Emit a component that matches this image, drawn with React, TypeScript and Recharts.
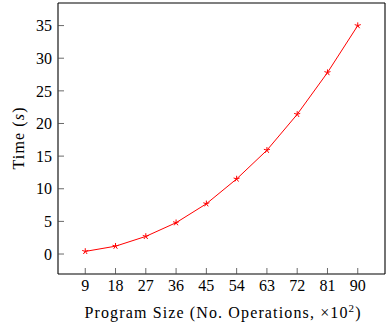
import { LineChart, Line, XAxis, YAxis, Label } from "recharts";

const programSizes = [9, 18, 27, 36, 45, 54, 63, 72, 81, 90];
const times = [0.4, 1.2, 2.7, 4.8, 7.7, 11.5, 15.9, 21.4, 27.8, 35.0];
const xTicks = [9, 18, 27, 36, 45, 54, 63, 72, 81, 90];
const yTicks = [0, 5, 10, 15, 20, 25, 30, 35];

const data = programSizes.map((size, i) => ({ size, time: times[i] }));

const FONT = "'Liberation Serif', 'Times New Roman', serif";

// pgfplots-style "star" mark: five spokes from the centre
function StarDot(props: any) {
  const { cx, cy } = props;
  if (cx == null || cy == null) return null;
  const r = 3.2;
  const spokes = [0, 1, 2, 3, 4].map((k) => {
    const a = -Math.PI / 2 + (k * 2 * Math.PI) / 5;
    return (
      <line
        key={k}
        x1={cx}
        y1={cy}
        x2={cx + r * Math.cos(a)}
        y2={cy + r * Math.sin(a)}
        stroke="#ff0000"
        strokeWidth={1}
      />
    );
  });
  return <g>{spokes}</g>;
}

export default function App() {
  const tickStyle = { fontFamily: FONT, fontSize: 16, fill: "#000" };
  const tickLine = { stroke: "#444", strokeWidth: 0.8 };
  const axisLine = { stroke: "#000", strokeWidth: 1.1 };

  return (
    <div style={{ position: "absolute", left: 0, top: 0, width: 388, height: 322, background: "#fff" }}>
      <LineChart
        width={388}
        height={322}
        data={data}
        margin={{ top: 0, right: 0, bottom: 0, left: 0 }}
      >
        {/* bottom axis with labels, inward ticks */}
        <XAxis
          xAxisId="bottom"
          dataKey="size"
          type="number"
          domain={[0.9, 98.1]}
          ticks={xTicks}
          allowDataOverflow
          height={48}
          tickSize={-6}
          tickMargin={12}
          tickLine={tickLine}
          axisLine={axisLine}
          tick={tickStyle}
          interval={0}
        >
          <Label
            content={({ viewBox }: any) => {
              const cx = viewBox.x + viewBox.width / 2 + 1;
              return (
                <text
                  x={cx}
                  y={318}
                  textAnchor="middle"
                  textLength={276}
                  lengthAdjust="spacing"
                  fontFamily={FONT}
                  fontSize={16}
                  fill="#000"
                >
                  Program Size (No. Operations, ×10
                  <tspan dy={-6} fontSize={11}>2</tspan>
                  <tspan dy={6}>)</tspan>
                </text>
              );
            }}
          />
        </XAxis>
        {/* top mirror axis: ticks only */}
        <XAxis
          xAxisId="top"
          orientation="top"
          dataKey="size"
          type="number"
          domain={[0.9, 98.1]}
          ticks={xTicks}
          allowDataOverflow
          height={3}
          tickSize={-6}
          tick={false}
          tickLine={tickLine}
          axisLine={axisLine}
          interval={0}
        />
        <YAxis
          yAxisId="left"
          type="number"
          domain={[-3.06, 38.46]}
          ticks={yTicks}
          allowDataOverflow
          width={58}
          tickSize={-6}
          tickMargin={12}
          tickLine={tickLine}
          axisLine={axisLine}
          tick={tickStyle}
          interval={0}
        >
          <Label
            content={({ viewBox }: any) => {
              const cy = viewBox.y + viewBox.height / 2;
              return (
                <text
                  x={0}
                  y={0}
                  transform={`translate(24, ${cy}) rotate(-90)`}
                  textAnchor="middle"
                  textLength={62}
                  lengthAdjust="spacing"
                  fontFamily={FONT}
                  fontSize={16}
                  fill="#000"
                >
                  Time (<tspan fontStyle="italic">s</tspan>)
                </text>
              );
            }}
          />
        </YAxis>
        {/* right mirror axis: ticks only */}
        <YAxis
          yAxisId="right"
          orientation="right"
          type="number"
          domain={[-3.06, 38.46]}
          ticks={yTicks}
          allowDataOverflow
          width={3}
          tickSize={-6}
          tick={false}
          tickLine={tickLine}
          axisLine={axisLine}
          interval={0}
        />
        <Line
          xAxisId="bottom"
          yAxisId="left"
          type="linear"
          dataKey="time"
          stroke="#ff0000"
          strokeWidth={1}
          dot={<StarDot />}
          activeDot={false}
          isAnimationActive={false}
        />
      </LineChart>
    </div>
  );
}
